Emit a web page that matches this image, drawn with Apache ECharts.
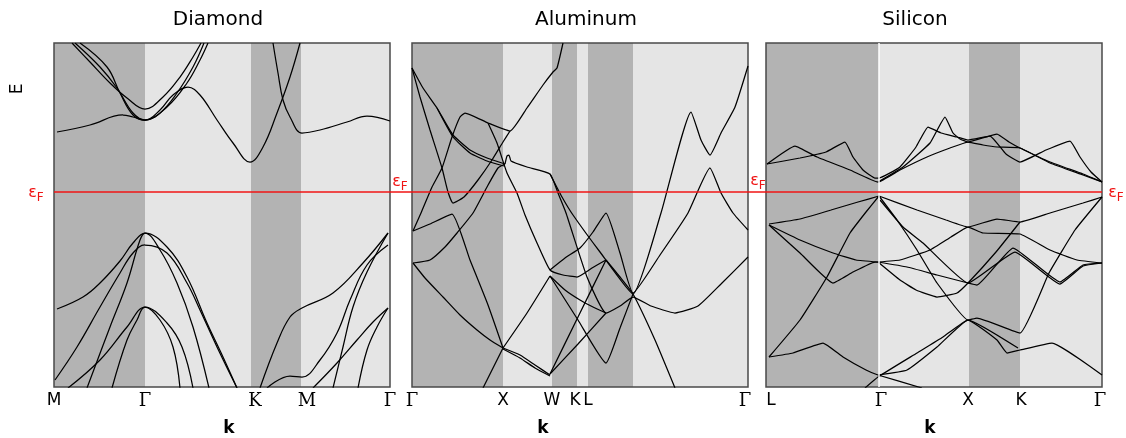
<!DOCTYPE html>
<html>
<head>
<meta charset="utf-8">
<script src="https://cdn.jsdelivr.net/npm/echarts@6/dist/echarts.min.js"></script>
<style>
  html, body { margin: 0; padding: 0; background: #fff; }
  #chart { width: 1126px; height: 438px; }
</style>
</head>
<body>
<div id="chart"></div>
<script>
// band structures along high-symmetry paths, k in path units (0..336), E relative to Fermi level
const kMax = 336;
const eMin = -195;
const eMax = 149;

// Diamond
const diamondEdges = [0, 91, 197, 247, 336];
const diamondTicks = [0, 91, 201, 253, 336];
const diamondLabels = ['M', 'Γ', 'K', 'M', 'Γ'];
const diamondC1 = [[18,149],[36,130],[56,109],[73,94],[91,83],[109,95],[126,115],[139,135],[147,149]];
const diamondC2 = [[21,149],[46,125],[63,104],[79,79],[91,72],[106,79],[123,99],[139,125],[150,149]];
const diamondC3 = [[26,149],[53,125],[66,99],[79,77],[91,72],[113,85],[133,109],[146,132],[154,149]];
const diamondC4 = [[3,60],[36,67],[69,77],[79,75],[91,72],[106,82],[119,97],[134,105],[146,97],[163,72],[179,49],[196,30],[209,45],[223,79],[236,115],[246,149]];
const diamondC5 = [[219,149],[224,119],[229,92],[236,75],[248,59],[266,62],[293,70],[313,76],[336,71]];
const diamondV1 = [[3,-117],[29,-105],[46,-91],[66,-69],[79,-51],[91,-41],[113,-55],[133,-85],[153,-131],[169,-165],[183,-196]];
const diamondV2 = [[1,-188],[23,-155],[46,-115],[66,-81],[79,-61],[91,-53],[113,-61],[133,-91],[146,-118],[163,-155],[183,-196]];
const diamondV3 = [[33,-196],[56,-135],[73,-91],[86,-48],[91,-41],[106,-58],[123,-91],[139,-135],[155,-196]];
const diamondV4 = [[14,-196],[46,-168],[73,-135],[91,-115],[106,-128],[119,-155],[126,-196]];
const diamondV5 = [[58,-196],[73,-148],[83,-128],[91,-115],[113,-131],[128,-155],[139,-196]];
const diamondV6 = [[206,-196],[223,-151],[236,-125],[248,-116],[279,-101],[309,-71],[334,-41]];
const diamondV7 = [[213,-196],[236,-184],[248,-185],[266,-168],[283,-141],[296,-108],[313,-73],[334,-53]];
const diamondV8 = [[279,-196],[289,-155],[299,-115],[313,-80],[334,-41]];
const diamondV9 = [[259,-196],[283,-171],[303,-148],[319,-130],[334,-116]];
const diamondV10 = [[304,-196],[313,-158],[323,-135],[334,-116]];

// Aluminum
const alumEdges = [0, 91, 140, 165, 176, 221, 336];
const alumTicks = [0, 91, 140, 163, 176, 333];
const alumLabels = ['Γ', 'X', 'W', 'K', 'L', 'Γ'];
const alum1 = [[0,124],[11,104],[25,84],[41,57],[58,42],[75,34],[93,28]];
const alum2 = [[25,84],[41,55],[58,39],[75,31],[92,26]];
const alum3 = [[0,124],[8,95],[18,62],[30,24],[36,0],[41,-11],[52,-5],[66,12],[80,32],[91,50],[98,61]];
const alum4 = [[1,-39],[9,-21],[20,5],[30,24],[40,55],[48,75],[53,79],[76,69],[98,61],[115,84],[131,107],[141,120],[145,124],[151,149]];
const alum5 = [[76,69],[85,49],[95,19],[105,-1],[113,-23],[125,-51],[138,-78],[151,-83],[165,-85],[180,-76],[194,-68]];
const alum6 = [[93,28],[95,36],[97,37],[99,31],[115,25],[138,18],[146,-1],[154,-21],[175,-85],[194,-121],[208,-114],[221,-105],[239,-114],[263,-121],[286,-114],[309,-92],[336,-65]];
const alum7 = [[138,18],[150,-5],[161,-23],[188,-60],[221,-102],[249,-21],[279,80],[289,52],[298,37],[309,59],[323,85],[336,126]];
const alum8 = [[138,-78],[153,-66],[168,-56],[181,-40],[194,-21],[208,-61],[221,-101],[248,-63],[276,-21],[298,24],[309,-1],[321,-21],[336,-38]];
const alum9 = [[194,-68],[208,-85],[221,-102],[243,-148],[263,-196]];
const alum10 = [[194,-68],[166,-125],[138,-182]];
const alum11 = [[138,-84],[166,-128],[194,-171],[208,-136],[221,-102]];
const alum12 = [[138,-84],[153,-98],[168,-108],[181,-115],[194,-121]];
const alum13 = [[194,-121],[166,-152],[138,-182]];
const alum14 = [[91,-156],[115,-121],[138,-84]];
const alum15 = [[91,-156],[108,-163],[123,-173],[138,-183]];
const alum16 = [[91,-157],[108,-166],[123,-176],[138,-184]];
const alum17 = [[91,-156],[71,-196]];
const alum18 = [[1,-71],[13,-86],[31,-105],[48,-123],[65,-138],[78,-148],[91,-156]];
const alum19 = [[1,-71],[18,-68],[33,-55],[45,-41],[61,-21],[75,5],[86,24],[93,28]];
const alum20 = [[1,-39],[18,-32],[40,-22],[58,-68],[76,-113],[91,-156]];

// Silicon
const siliconEdges = [0, 113, 203, 254, 336];
const siliconTicks = [5, 115, 202, 255, 334];
const siliconLabels = ['L', 'Γ', 'X', 'K', 'Γ'];
const siliconC1 = [[1,28],[29,46],[51,35],[84,22],[112,10],[134,22],[161,35],[184,44],[202,50],[217,47],[231,45],[254,44],[284,29],[317,17],[336,10]];
const siliconC2 = [[1,28],[34,34],[60,40],[79,50],[87,35],[97,22],[109,14],[113,14],[134,25],[150,45],[162,65],[175,59],[191,55],[202,52],[224,56],[240,38],[254,30],[280,42],[304,51],[314,35],[325,20],[336,10]];
const siliconC3 = [[112,10],[137,25],[164,49],[179,75],[187,59],[194,53],[202,50],[231,58],[243,50],[254,44],[284,30],[317,18],[336,10]];
const siliconV1 = [[3,-32],[34,-27],[65,-18],[92,-10],[113,-4]];
const siliconV2 = [[3,-33],[34,-48],[67,-61],[90,-68],[112,-70]];
const siliconV3 = [[3,-33],[34,-61],[67,-91],[87,-80],[109,-70],[112,-70]];
const siliconV4 = [[3,-165],[27,-161],[57,-151],[77,-165],[100,-178],[112,-183],[156,-196]];
const siliconV5 = [[3,-165],[34,-128],[61,-85],[84,-41],[100,-20],[113,-4]];
const siliconV6 = [[113,-4],[151,-18],[180,-28],[202,-35],[231,-27],[254,-30],[284,-21],[317,-11],[336,-5]];
const siliconV7 = [[112,-70],[134,-68],[164,-58],[185,-45],[202,-35],[217,-41],[254,-42],[284,-58],[311,-68],[336,-71]];
const siliconV8 = [[112,-70],[141,-75],[171,-83],[202,-91],[211,-93],[247,-56],[294,-90],[317,-73],[336,-71]];
const siliconV9 = [[112,-70],[134,-88],[150,-98],[171,-105],[191,-101],[202,-91],[230,-60],[254,-30]];
const siliconV10 = [[114,-8],[137,-35],[157,-51],[202,-91],[249,-60],[294,-92],[317,-74],[336,-71]];
const siliconV11 = [[113,-4],[131,-28],[151,-58],[171,-91],[202,-128],[211,-126],[254,-141],[283,-81],[309,-38],[336,-5]];
const siliconV12 = [[112,-183],[141,-178],[171,-155],[202,-128],[231,-148],[241,-161],[254,-158],[286,-151],[336,-183]];
const siliconV13 = [[99,-196],[112,-185],[151,-161],[177,-145],[202,-128],[252,-156]];

const fermiLevel = [[0, 0], [1, 0]];

const panels = [
  {
    title: 'Diamond', left: 54, titleX: 218, kX: 229, smooth: 0.4,
    edges: diamondEdges, ticks: diamondTicks, labels: diamondLabels,
    serif: [false, true, true, true, true],
    lines: [diamondC1, diamondC2, diamondC3, diamondC4, diamondC5, diamondV1, diamondV2, diamondV3,
            diamondV4, diamondV5, diamondV6, diamondV7, diamondV8, diamondV9, diamondV10]
  },
  {
    title: 'Aluminum', left: 412, titleX: 586, kX: 543, smooth: 0.15,
    edges: alumEdges, ticks: alumTicks, labels: alumLabels,
    serif: [true, false, false, false, false, true],
    lines: [alum1, alum2, alum3, alum4, alum5, alum6, alum7, alum8, alum9, alum10,
            alum11, alum12, alum13, alum14, alum15, alum16, alum17, alum18, alum19, alum20]
  },
  {
    title: 'Silicon', left: 766, titleX: 915, kX: 930, smooth: 0.12, gapAt: 113,
    edges: siliconEdges, ticks: siliconTicks, labels: siliconLabels,
    serif: [false, true, false, false, true],
    lines: [siliconC1, siliconC2, siliconC3, siliconV1, siliconV2, siliconV3, siliconV4, siliconV5,
            siliconV6, siliconV7, siliconV8, siliconV9, siliconV10, siliconV11, siliconV12, siliconV13]
  }
];

const DARK = '#b3b3b3';
const LIGHT = '#e5e5e5';
const RED = '#f01515';
const TOP = 43;
const HEIGHT = 344;
const WIDTH = 336;

const grid = [];
const xAxis = [];
const yAxis = [];
const series = [];

panels.forEach((p, i) => {
  grid.push({ left: p.left, top: TOP, width: WIDTH, height: HEIGHT });
  xAxis.push({
    gridIndex: i, type: 'value', min: 0, max: kMax,
    axisLine: { show: false }, axisTick: { show: false }, splitLine: { show: false },
    axisLabel: {
      customValues: p.ticks,
      margin: 5,
      formatter: (v) => {
        const idx = p.ticks.indexOf(v);
        if (idx < 0) return '';
        return '{' + (p.serif[idx] ? 's' : 'n') + '|' + p.labels[idx] + '}';
      },
      rich: {
        s: { fontFamily: 'DejaVu Serif', fontSize: 18, color: '#000' },
        n: { fontFamily: 'DejaVu Sans', fontSize: 17, color: '#000' }
      }
    }
  });
  yAxis.push({ gridIndex: i, type: 'value', min: eMin, max: eMax, show: false });

  // shaded path segments
  const areas = [];
  for (let j = 0; j < p.edges.length - 1; j++) {
    areas.push([
      { xAxis: p.edges[j], yAxis: eMin, itemStyle: { color: j % 2 === 0 ? DARK : LIGHT } },
      { xAxis: p.edges[j + 1], yAxis: eMax }
    ]);
  }
  series.push({
    type: 'line', xAxisIndex: i, yAxisIndex: i, data: [], z: 1, silent: true,
    markArea: { silent: true, data: areas },
    markLine: p.gapAt != null ? {
      silent: true, symbol: 'none', label: { show: false },
      lineStyle: { color: '#fff', width: 1.5, type: 'solid' },
      data: [{ xAxis: p.gapAt }]
    } : undefined
  });

  p.lines.forEach((d) => {
    series.push({
      type: 'line', xAxisIndex: i, yAxisIndex: i, data: d, z: 3, silent: true,
      showSymbol: false, smooth: p.smooth, clip: true,
      lineStyle: { color: '#000', width: 1.25 }
    });
  });

  // frame
  series.push({
    type: 'line', xAxisIndex: i, yAxisIndex: i, data: [], z: 4, silent: true,
    markArea: {
      silent: true,
      itemStyle: { color: 'rgba(0,0,0,0)', borderColor: '#4a4a4a', borderWidth: 1.5 },
      data: [[{ xAxis: 0, yAxis: eMin }, { xAxis: kMax, yAxis: eMax }]]
    }
  });
});

// Fermi level spans all three panels
grid.push({ left: 54, top: TOP, width: 1048, height: HEIGHT });
xAxis.push({ gridIndex: 3, type: 'value', min: 0, max: 1, show: false });
yAxis.push({ gridIndex: 3, type: 'value', min: eMin, max: eMax, show: false });
series.push({
  type: 'line', xAxisIndex: 3, yAxisIndex: 3, data: fermiLevel, z: 5, silent: true,
  showSymbol: false, lineStyle: { color: RED, width: 1.5 }
});

const epsRich = {
  e: { fontFamily: 'DejaVu Sans', fontSize: 16, fill: RED },
  f: { fontFamily: 'DejaVu Sans', fontSize: 12, fill: RED, padding: [9, 0, 0, 0] }
};
const epsLabel = (x, y) => ({
  type: 'text', x, y, z: 10,
  style: { text: '{e|ε}{f|F}', rich: epsRich, align: 'center', verticalAlign: 'middle' }
});
const plainText = (x, y, text, extra) => ({
  type: 'text', x, y, z: 10,
  style: Object.assign({
    text, fill: '#000', fontFamily: 'DejaVu Sans', fontSize: 20,
    align: 'center', verticalAlign: 'middle'
  }, extra || {})
});

const graphic = [
  epsLabel(36, 193), epsLabel(400, 182), epsLabel(758, 181), epsLabel(1116, 193),
  Object.assign(plainText(18, 89, 'E', { fontSize: 17 }), { rotation: Math.PI / 2 })
];
panels.forEach((p) => {
  graphic.push(plainText(p.titleX, 20, p.title));
  graphic.push(plainText(p.kX, 429, 'k', { fontWeight: 'bold', fontSize: 17 }));
});

const chart = echarts.init(document.getElementById('chart'));
chart.setOption({
  animation: false,
  backgroundColor: '#fff',
  grid, xAxis, yAxis, series, graphic
});
</script>
</body>
</html>
